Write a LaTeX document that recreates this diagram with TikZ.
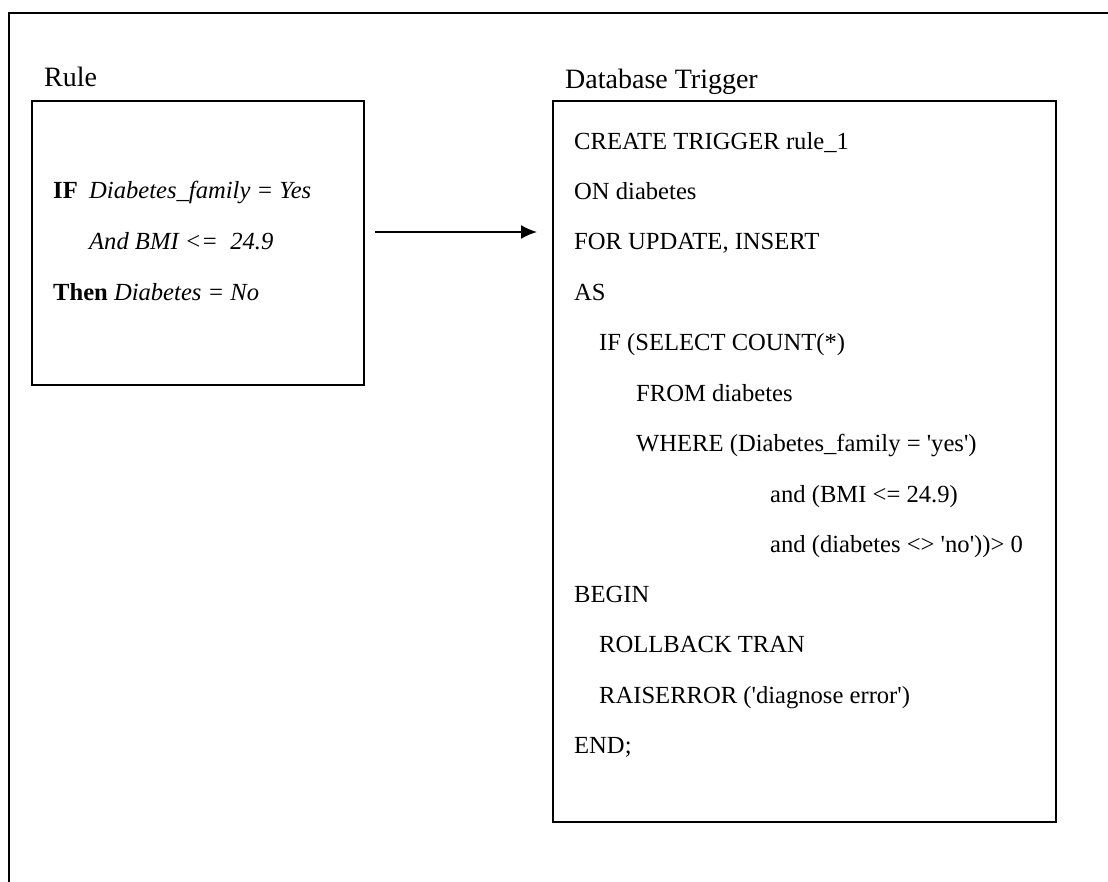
\documentclass[tikz,border=0pt]{standalone}
\usepackage{fontspec}
\setmainfont{Liberation Serif}[Ligatures=TeXOff]
\usetikzlibrary{arrows.meta}
\begin{document}
\begin{tikzpicture}[x=1pt,y=-1pt,
  frame/.style={line width=1.8pt},
  boxline/.style={line width=1.6pt},
  txt/.style={anchor=base west,inner sep=0pt,font=\fontsize{24.6}{28}\selectfont},
  lbl/.style={anchor=base west,inner sep=0pt,font=\fontsize{28}{30}\selectfont},
  conn/.style={line width=1.8pt,-{Latex[length=16pt,width=14pt]}}]
\useasboundingbox (0,0) rectangle (1108,882);
% outer frame (partly cut off)
\draw[frame] (9,882) -- (9,13) -- (1108,13);
% boxes
\draw[boxline] (32,101) rectangle (364,385);
\draw[boxline] (553,101) rectangle (1056,822);
% labels
\node[lbl] (lrule) at (44,87) {Rule};
\node[lbl] (ltrig) at (565,89) {Database Trigger};
% rule
\node[txt] (r1a) at (53,199) {\textbf{IF}};
\node[txt] (r1b) at (89,199) {\textit{Diabetes\_family = Yes}};
\node[txt] (r2) at (89,250) {\textit{And BMI <=~~24.9}};
\node[txt] (r3) at (53,301) {\textbf{Then} \textit{Diabetes = No}};
% arrow
\coordinate (as) at (375,232);
\coordinate (ae) at (537,232);
\draw[conn] (as) -- (ae);
% trigger
\node[txt] (t1) at (574,150) {CREATE TRIGGER rule\_1};
\node[txt] (t2) at (574,200) {ON diabetes};
\node[txt] (t3) at (574,250) {FOR UPDATE, INSERT};
\node[txt] (t4) at (574,301) {AS};
\node[txt] (t5) at (599,351) {IF (SELECT COUNT(*)};
\node[txt] (t6) at (636,401) {FROM diabetes};
\node[txt] (t7) at (636,451) {WHERE (Diabetes\_family = 'yes')};
\node[txt] (t8) at (770,502) {and (BMI <= 24.9)};
\node[txt] (t9) at (770,552) {and (diabetes <> 'no'))> 0};
\node[txt] (t10) at (574,602) {BEGIN};
\node[txt] (t11) at (599,652) {ROLLBACK TRAN};
\node[txt] (t12) at (599,703) {RAISERROR ('diagnose error')};
\node[txt] (t13) at (574,753) {END;};
\end{tikzpicture}
\end{document}
